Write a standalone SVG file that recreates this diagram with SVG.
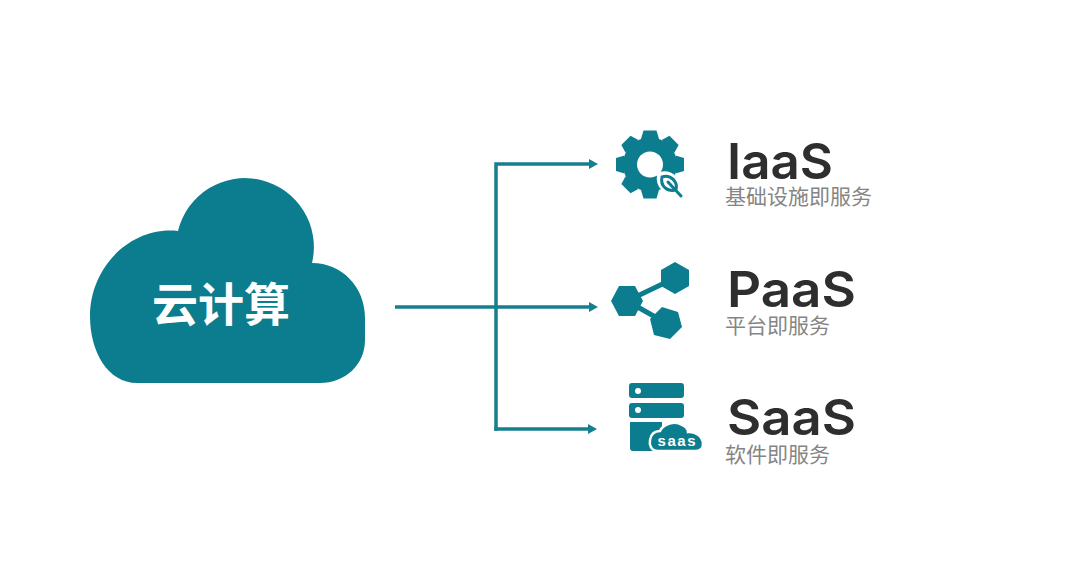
<svg xmlns="http://www.w3.org/2000/svg" width="1080" height="571" viewBox="0 0 1080 571">
<style>
.t{fill:#0c7d8e}
.title{font-family:Inter,"Liberation Sans",sans-serif;font-size:50px;font-weight:600;fill:#2e2e2e}
.sub{font-family:"Noto Sans CJK SC",sans-serif;font-size:21px;fill:#858585}
.wire{fill:none;stroke:#167f8f;stroke-width:3.500}
</style>
<defs>
<marker id="arrow" markerUnits="userSpaceOnUse" markerWidth="12" markerHeight="12" refX="3" refY="6" orient="auto"><path d="M0 1L9 6L0 11Z" fill="#167f8f"/></marker>
<polygon id="tooth" points="641,139 643.500,130.500 656.500,130.500 659,139"/>
</defs>
<rect width="1080" height="571" fill="#fff"/>
<g id="connectors">
<path class="wire" d="M395 307H592" marker-end="url(#arrow)"/>
<path class="wire" d="M496 430.750V164H592" marker-end="url(#arrow)"/>
<path class="wire" d="M494.250 429H591" marker-end="url(#arrow)"/>
</g>
<g id="cloud">
<path class="t" d="M137 383C108 383 90 352 90 316C90 268 130 226 178 231A68 68 0 1 1 312 263C342 263 365 287 365 318V340C365 365 345 383 320 383Z"/>
<text x="221" y="321" text-anchor="middle" font-family="'Noto Sans CJK SC',sans-serif" font-size="46" font-weight="700" fill="#fff">云计算</text>
</g>
<g id="iaas">
<g class="t">
<circle cx="650" cy="164.500" r="27"/>
<use href="#tooth"/>
<use href="#tooth" transform="rotate(45 650 164.500)"/>
<use href="#tooth" transform="rotate(90 650 164.500)"/>
<use href="#tooth" transform="rotate(135 650 164.500)"/>
<use href="#tooth" transform="rotate(180 650 164.500)"/>
<use href="#tooth" transform="rotate(225 650 164.500)"/>
<use href="#tooth" transform="rotate(270 650 164.500)"/>
<use href="#tooth" transform="rotate(315 650 164.500)"/>
</g>
<circle cx="650" cy="164.500" r="13" fill="#fff"/>
<path d="M660 175C671 172 680 181 678 192C667 194 658 186 660 175Z" fill="#fff" stroke="#fff" stroke-width="6"/>
<path d="M662 177C671 174 678 182 676 190C667 192 660 186 662 177ZM668 182L681 196" fill="#fff" stroke="#0c7d8e" stroke-width="3" stroke-linecap="round"/>
<text class="title" x="727" y="179" textLength="106" lengthAdjust="spacingAndGlyphs">IaaS</text>
<text class="sub" x="725" y="204">基础设施即服务</text>
</g>
<g id="paas">
<path d="M627 301L675 278M627 301L666 323" stroke="#0c7d8e" stroke-width="5" fill="none"/>
<path class="t" d="M675 262L689 270V286L675 294L661 286V270Z"/>
<path class="t" d="M611 301L619 286H635L643 301L635 316H619Z"/>
<path class="t" d="M662 307L678 312L682 327L670 339L654 335L650 319Z"/>
<text class="title" x="727" y="307" textLength="129" lengthAdjust="spacingAndGlyphs">PaaS</text>
<text class="sub" x="725" y="333">平台即服务</text>
</g>
<g id="saas">
<rect class="t" x="629" y="383" width="55" height="15" rx="3"/>
<rect class="t" x="629" y="403" width="55" height="15" rx="3"/>
<circle cx="638" cy="391" r="3" fill="#fff"/>
<circle cx="638" cy="410" r="3" fill="#fff"/>
<path class="t" d="M630 422H662V451H633Q630 451 630 448Z"/>
<path class="t" d="M658 451C651 451 649 445 650 440C651 434 655 431 660 431C663 424 675 420 682 425C686 427 688 430 688 432C696 431 703 437 703 444C703 449 699 451 695 451Z" stroke="#fff" stroke-width="2.500"/>
<text x="676.500" y="446" text-anchor="middle" font-family="'Liberation Sans',Arial,sans-serif" font-size="15" font-weight="700" fill="#fff" textLength="38" lengthAdjust="spacing">saas</text>
<text class="title" x="727" y="435" textLength="129" lengthAdjust="spacingAndGlyphs">SaaS</text>
<text class="sub" x="725" y="462">软件即服务</text>
</g>
</svg>
